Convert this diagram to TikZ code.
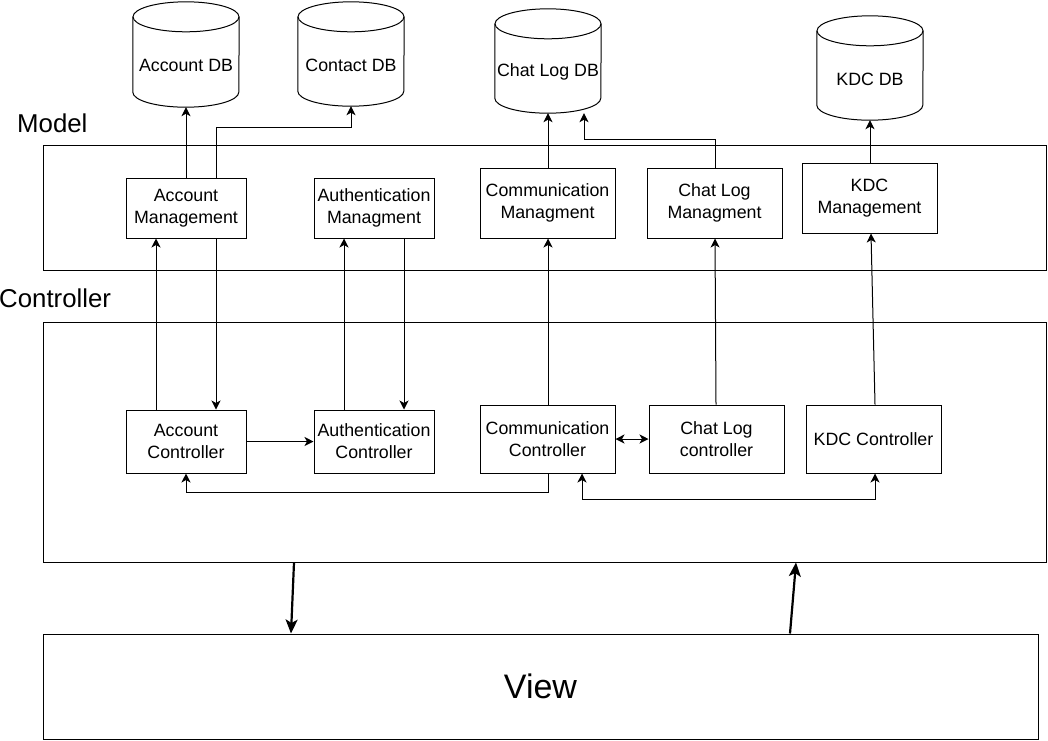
\documentclass[tikz,border=0pt]{standalone}
\usepackage{fontspec}
\setmainfont{Liberation Sans}
\usetikzlibrary{arrows.meta,calc}

\newcommand\boxfont{\fontsize{17.8}{22}\selectfont}
\newcommand\layerfont{\fontsize{25.8}{30}\selectfont}
\newcommand\viewfont{\fontsize{34}{40}\selectfont}

\tikzset{
  box/.style={draw, line width=1pt, align=center, inner sep=0pt, font=\boxfont},
  layer/.style={draw, line width=1pt, inner sep=0pt},
  tip/.tip={Stealth[length=9pt,width=9pt,inset=2.5pt]},
  arr/.style={line width=1pt, -tip},
  biarr/.style={line width=1pt, tip-tip},
  bigarr/.style={line width=2.2pt, -{Stealth[length=14pt,width=12pt,inset=3.5pt]}},
}

% database cylinder: name, centre x, centre y, width, height, text
\newcommand\dbcyl[6]{%
  \node[minimum width=#4, minimum height=#5, inner sep=0pt,
        label={[font=\boxfont, yshift=-11pt]center:#6}] (#1) at (#2,#3) {};
  \draw[line width=1pt] ($(#1.north)+(0,15)$) ellipse [x radius=53pt, y radius=15pt];
  \draw[line width=1pt] ($(#1.north west)+(0,15)$) -- ($(#1.south west)+(0,-15)$)
     arc[start angle=180, end angle=360, x radius=53pt, y radius=15pt]
     -- ($(#1.north east)+(0,15)$);
}

\begin{document}
\begin{tikzpicture}[x=1pt,y=-1pt]
\useasboundingbox (0,0) rectangle (1048,740);

% layers
\node[layer, minimum width=1003, minimum height=125] (model) at (544.5,207.5) {};
\node[layer, minimum width=1003, minimum height=240] (ctrl) at (544.5,442) {};
\node[layer, minimum width=995, minimum height=105, font=\viewfont] (view) at (540.5,686.5) {View};
\node[anchor=west, inner sep=0pt, font=\layerfont] (modellbl) at (17,123) {Model};
\node[anchor=west, inner sep=0pt, font=\layerfont] (ctrllbl) at (-1,298) {Controller};

% databases
\dbcyl{adb}{186}{54.5}{106}{105}{Account DB}
\dbcyl{cdb}{351}{54}{106}{104}{Contact DB}
\dbcyl{cldb}{548}{61}{106}{104}{Chat Log DB}
\dbcyl{kdb}{870}{68}{106}{104}{KDC DB}

% model components
\node[box, minimum width=120, minimum height=60] (am) at (186,208) {Account\\Management};
\node[box, minimum width=120, minimum height=60] (aum) at (374,208) {Authentication\\Managment};
\node[box, minimum width=135, minimum height=70] (cm) at (547.5,203) {Communication\\Managment};
\node[box, minimum width=135, minimum height=70] (clm) at (714.5,203) {Chat Log\\Managment};
\node[box, minimum width=135, minimum height=70] (km) at (869.5,198) {KDC\\Management};

% controller components
\node[box, minimum width=120, minimum height=63] (ac) at (186,441.5) {Account\\Controller};
\node[box, minimum width=120, minimum height=63] (auc) at (374,441.5) {Authentication\\Controller};
\node[box, minimum width=135, minimum height=68] (cc) at (547.5,439) {Communication\\Controller};
\node[box, minimum width=135, minimum height=68] (clc) at (716.5,439) {Chat Log\\controller};
\node[box, minimum width=135, minimum height=68] (kc) at (873.5,439) {KDC Controller};

% model to databases
\draw[arr] (am.north) -- (adb.south);
\draw[arr] ([xshift=30]am.north) |- ++(0,-50) -| (cdb.south);
\draw[arr] ([xshift=0.5]cm.north) -- ([xshift=0]cldb.south);
\draw[arr] ([xshift=0.5]clm.north) |- ++(0,-28) -| ([xshift=36]cldb.south);
\draw[arr] ([xshift=0.5]km.north) -- (kdb.south);

% controllers and model components
\draw[arr] ([xshift=-30]ac.north) -- ([xshift=-30]am.south);
\draw[arr] ([xshift=30]am.south) -- ([xshift=30]ac.north);
\draw[arr] ([xshift=-30]auc.north) -- ([xshift=-30]aum.south);
\draw[arr] ([xshift=30]aum.south) -- ([xshift=30]auc.north);
\draw[arr] ([xshift=0.5]cc.north) -- ([xshift=0.5]cm.south);
\draw[arr] ([xshift=-0.5]clc.north) -- ([xshift=0.5]clm.south);
\draw[arr] ([xshift=1.5]kc.north) -- ([xshift=1.5]km.south);

% links between controllers
\draw[arr] (ac.east) -- (auc.west);
\draw[biarr] (cc.east) -- (clc.west);
\draw[arr] ([xshift=0.5]cc.south) |- ++(0,19) -| (ac.south);
\draw[biarr] ([xshift=34.5]cc.south) |- ++(0,26) -| ([xshift=1.5]kc.south);

% controller and view
\draw[bigarr] ([xshift=-250.5]ctrl.south) -- ([xshift=-249.5]view.north);
\draw[bigarr] ([xshift=249.5]view.north) -- ([xshift=251.5]ctrl.south);
\end{tikzpicture}
\end{document}
